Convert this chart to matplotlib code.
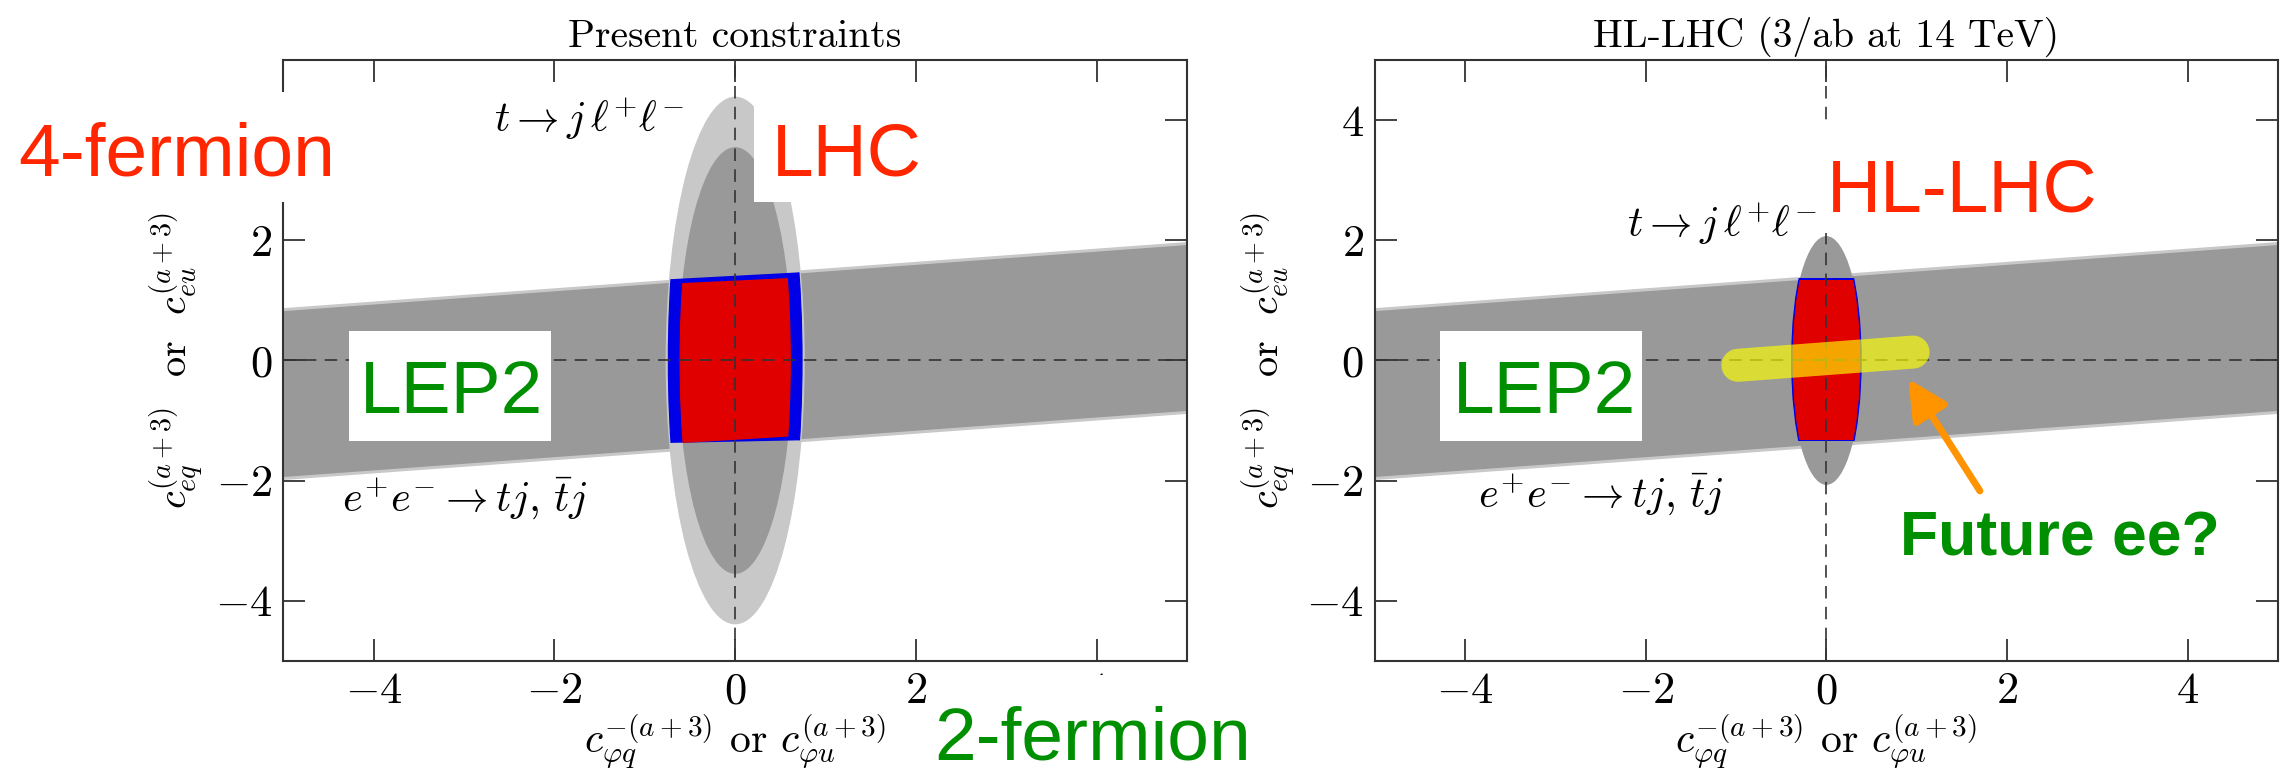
import matplotlib
matplotlib.use('Agg')
import matplotlib.pyplot as plt
from matplotlib.patches import Ellipse, Polygon, Rectangle

plt.rcParams['font.family'] = 'serif'
plt.rcParams['font.serif'] = ['cmr10']
plt.rcParams['mathtext.fontset'] = 'cm'
plt.rcParams['axes.formatter.use_mathtext'] = True

# LEP2 band (e+e- -> tj), edges at x = -5 and x = 5
lep2_x = [-5, 5]
lep2_lo = [-1.93, -0.83]
lep2_hi = [0.83, 1.93]
lep2_lo_95 = [-1.98, -0.88]
lep2_hi_95 = [0.88, 1.98]

# t -> j l+ l- ellipses: (half width, half height)
lhc_95 = (0.77, 4.39)
lhc_68 = (0.63, 3.55)
hllhc_68 = (0.39, 2.07)

# combined fits: ellipse (half width, half height) cut by band edges at x = -1, 1
comb_now_blue = (0.74, 4.9)
comb_now_blue_top = [1.33, 1.49]
comb_now_blue_bot = [-1.38, -1.32]
comb_now_red = (0.61, 4.2)
comb_now_red_top = [1.26, 1.40]
comb_now_red_bot = [-1.41, -1.23]

comb_hl_blue = (0.385, 2.2)
comb_hl_blue_top = [1.365, 1.365]
comb_hl_blue_bot = [-1.335, -1.335]
comb_hl_red = (0.368, 2.17)
comb_hl_red_top = [1.345, 1.345]
comb_hl_red_bot = [-1.315, -1.315]

# future e+e- reach
fee_x = [-0.98, 0.96]
fee_y = [-0.08, 0.14]

ticks = [-4, -2, 0, 2, 4]

W, H = 2280, 773
fig = plt.figure(figsize=(W / 100, H / 100), dpi=100)
ax1 = fig.add_axes([0.1243, 0.1449, 0.3963, 0.7775])
ax2 = fig.add_axes([0.6030, 0.1449, 0.3961, 0.7775])

DARK = '#999999'
LIGHT = '#c8c8c8'
RED = '#e00000'
BLUE = '#0000e6'


def clipped_ellipse(ax, size, top, bot, color, z):
    e = Ellipse((0, 0), 2 * size[0], 2 * size[1], facecolor=color,
                edgecolor=color, lw=0.8, joinstyle='round', zorder=z)
    ax.add_patch(e)
    clip = Polygon([(-1, bot[0]), (1, bot[1]), (1, top[1]), (-1, top[0])],
                   closed=True, transform=ax.transData)
    e.set_clip_path(clip)


def setup(ax, title):
    ax.fill_between(lep2_x, lep2_lo_95, lep2_hi_95, color=LIGHT, lw=0, zorder=1)
    ax.fill_between(lep2_x, lep2_lo, lep2_hi, color=DARK, lw=0, zorder=1.1)
    ax.axhline(0, color='#333333', lw=1.2, dashes=(7.5, 5), zorder=4)
    ax.axvline(0, color='#333333', lw=1.2, dashes=(7.5, 5), zorder=4)
    ax.set_xlim(-5, 5)
    ax.set_ylim(-5, 5)
    ax.set_xticks(ticks)
    ax.set_yticks(ticks)
    ax.tick_params(direction='in', length=15.5, width=1.3, labelsize=32,
                   pad=8, top=True, right=True, color='#333333')
    for s in ax.spines.values():
        s.set_linewidth(1.5)
        s.set_color('#333333')
    ax.set_title(title, fontsize=28.5, pad=9.5)
    ax.set_xlabel(r'$c_{\varphi q}^{-(a+3)}$ or $c_{\varphi u}^{(a+3)}$',
                  fontsize=30, labelpad=0)
    ax.set_ylabel(r'$c_{eq}^{(a+3)}$  or  $c_{eu}^{(a+3)}$',
                  fontsize=29, labelpad=6)


setup(ax1, 'Present constraints')
setup(ax2, 'HL-LHC (3/ab at 14 TeV)')

# present LHC constraint and combined fit
ax1.add_patch(Ellipse((0, 0), 2 * lhc_95[0], 2 * lhc_95[1], color=LIGHT, lw=0, zorder=2))
ax1.add_patch(Ellipse((0, 0), 2 * lhc_68[0], 2 * lhc_68[1], color=DARK, lw=0, zorder=2.1))
clipped_ellipse(ax1, comb_now_blue, comb_now_blue_top, comb_now_blue_bot, BLUE, 3)
clipped_ellipse(ax1, comb_now_red, comb_now_red_top, comb_now_red_bot, RED, 3.1)

# HL-LHC projection
ax2.add_patch(Ellipse((0, 0), 2 * hllhc_68[0], 2 * hllhc_68[1], color=DARK, lw=0, zorder=2.1))
clipped_ellipse(ax2, comb_hl_blue, comb_hl_blue_top, comb_hl_blue_bot, BLUE, 3)
clipped_ellipse(ax2, comb_hl_red, comb_hl_red_top, comb_hl_red_bot, RED, 3.1)
ax2.plot(fee_x, fee_y, color='yellow', alpha=0.65, lw=23.8,
         solid_capstyle='round', zorder=5)
ax2.annotate('', xy=(0.906, -0.305), xytext=(1.70, -2.17),
             arrowprops=dict(arrowstyle='-|>,head_length=2.4,head_width=1.2',
                             color='#ff9300', lw=5, shrinkA=0, shrinkB=0,
                             mutation_scale=10), zorder=6)

tlabel = r'$t\rightarrow j\,\ell^{+}\ell^{-}$'
elabel = r'$e^{+}e^{-}\rightarrow tj,\,\bar{t}j$'
ax1.text(-2.67, 3.80, tlabel, fontsize=30.5, ha='left', va='baseline', zorder=6)
ax1.text(-4.35, -2.51, elabel, fontsize=30.5, ha='left', va='baseline', zorder=6)
ax2.text(-2.21, 2.06, tlabel, fontsize=30.5, ha='left', va='baseline', zorder=6)
ax2.text(-3.86, -2.45, elabel, fontsize=30.5, ha='left', va='baseline', zorder=6)


# slide annotations, placed in pixels from the top-left corner
def box(x0, y0, x1, y1):
    fig.add_artist(Rectangle((x0 / W, 1 - y1 / H), (x1 - x0) / W, (y1 - y0) / H,
                             transform=fig.transFigure, facecolor='white',
                             edgecolor='none', zorder=5))


def label(x, y, s, color, **kw):
    fig.text(x / W, 1 - y / H, s, color=color, ha='left', va='baseline',
             family='Liberation Sans', zorder=6, **kw)


RED_T = '#ff2600'
GREEN_T = '#008f00'

box(0, 92, 345, 202)
box(754, 88, 925, 202)
box(349, 331, 551, 441)
box(932, 675, 1270, 773)
box(1440, 331, 1642, 441)
box(1818, 127, 2110, 233)

label(18, 175, '4-fermion', RED_T, fontsize=54)
label(772, 175, 'LHC', RED_T, fontsize=54)
label(360, 413, 'LEP2', GREEN_T, fontsize=54)
label(934, 760, '2-fermion', GREEN_T, fontsize=54)
label(1453, 413, 'LEP2', GREEN_T, fontsize=54)
label(1827, 212, 'HL-LHC', RED_T, fontsize=54)
label(1900, 555, 'Future ee?', GREEN_T, fontsize=45, weight='bold')

fig.savefig('out.png', dpi=100)
